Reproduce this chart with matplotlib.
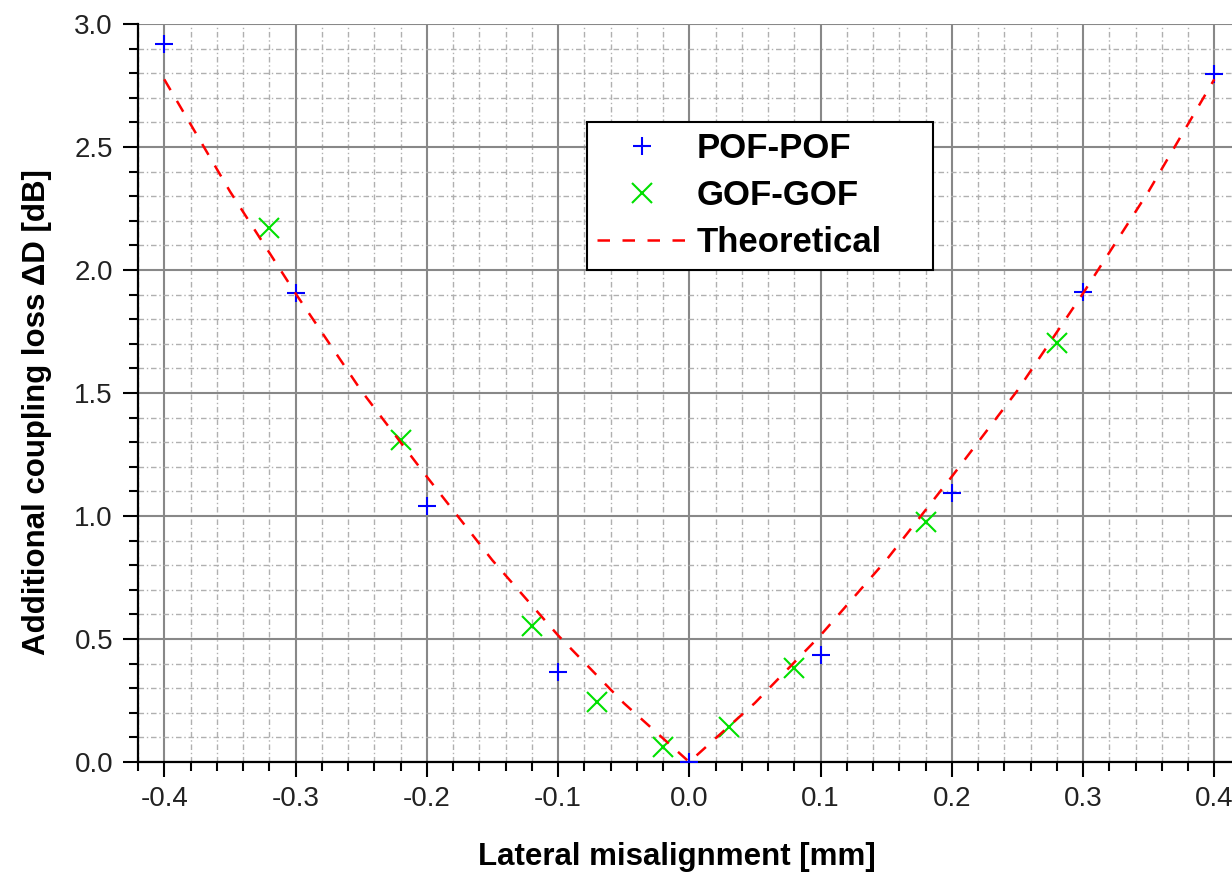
import matplotlib
matplotlib.use("Agg")
import matplotlib.pyplot as plt
from matplotlib.ticker import MultipleLocator, FormatStrFormatter

plt.rcParams['font.family'] = ['Liberation Sans', 'DejaVu Sans']

# Data
pof_x = [-0.4, -0.3, -0.2, -0.1, 0.0, 0.1, 0.2, 0.3, 0.4]
pof_y = [2.92, 1.905, 1.04, 0.367, 0.0, 0.435, 1.092, 1.909, 2.797]

gof_x = [-0.32, -0.22, -0.12, -0.07, -0.02, 0.03, 0.08, 0.18, 0.28]
gof_y = [2.169, 1.309, 0.554, 0.243, 0.062, 0.141, 0.381, 0.974, 1.702]

theo_x = [-0.4, -0.35, -0.3, -0.25, -0.2, -0.15, -0.1, -0.05, 0.0,
          0.05, 0.1, 0.15, 0.2, 0.25, 0.3, 0.35, 0.4]
theo_y = [2.775, 2.32, 1.905, 1.51, 1.16, 0.82, 0.515, 0.24, 0.0,
          0.24, 0.515, 0.82, 1.16, 1.51, 1.905, 2.32, 2.775]

labels = ['POF-POF', 'GOF-GOF', 'Theoretical']

fig = plt.figure(figsize=(12.32, 8.77), dpi=100)
ax = fig.add_axes([138/1232, (877-762)/877, 1 - 138/1232, (762-24)/877])

ax.plot(pof_x, pof_y, linestyle='none', marker='+', ms=13, mew=1.5,
        color='#0000ff', label=labels[0], zorder=3)
ax.plot(gof_x, gof_y, linestyle='none', marker='x', ms=15, mew=1.5,
        color='#00e000', label=labels[1], zorder=3)
ax.plot(theo_x, theo_y, linestyle=(0, (5, 5)), lw=1.8, color='#ff0000',
        label=labels[2], zorder=4)

ax.set_xlim(-0.42, 0.4135)
ax.set_ylim(0.0, 3.0)

ax.xaxis.set_major_locator(MultipleLocator(0.1))
ax.xaxis.set_minor_locator(MultipleLocator(0.02))
ax.yaxis.set_major_locator(MultipleLocator(0.5))
ax.yaxis.set_minor_locator(MultipleLocator(0.1))
ax.xaxis.set_major_formatter(FormatStrFormatter('%.1f'))
ax.yaxis.set_major_formatter(FormatStrFormatter('%.1f'))

ax.grid(which='major', color='#888888', lw=1.5, linestyle='-', zorder=0)
ax.grid(which='minor', color='#b0b0b0', lw=1.0, linestyle=(0, (4, 2, 1, 2)), zorder=0)
ax.set_axisbelow(True)

for s in ['top', 'right']:
    ax.spines[s].set_visible(False)
for s in ['left', 'bottom']:
    ax.spines[s].set_linewidth(1.6)
    ax.spines[s].set_color('black')

ax.tick_params(which='major', direction='out', length=11, width=1.5,
               labelsize=20, labelcolor='#222222')
ax.tick_params(which='minor', direction='out', length=6.5, width=1.5)
ax.tick_params(axis='y', which='major', pad=7)
ax.tick_params(axis='x', which='major', pad=6)

ax.set_xlabel('Lateral misalignment [mm]', fontsize=22.5, fontweight='bold')
ax.set_ylabel('Additional coupling loss ΔD [dB]', fontsize=22.5, fontweight='bold')
ax.xaxis.set_label_coords((677-138)/1094, (762-857)/738)
ax.xaxis.label.set_va('center')
ax.yaxis.set_label_coords((37-138)/1094, (762-412)/738)
ax.yaxis.label.set_va('center')

lx0 = (587-138)/1094
lw_ = (933-587)/1094
ltop = (762-122)/738
leg = ax.legend(loc='upper left', bbox_to_anchor=(lx0, ltop - 0.2, lw_, 0.2),
                mode='expand', borderaxespad=0, fancybox=False, framealpha=1,
                edgecolor='black', prop={'weight': 'bold', 'size': 25},
                handlelength=2.55, handletextpad=0.3, labelspacing=0.4,
                borderpad=0.3)
leg.get_frame().set_linewidth(1.5)
leg.set_zorder(10)

fig.savefig('out.png', dpi=100)
